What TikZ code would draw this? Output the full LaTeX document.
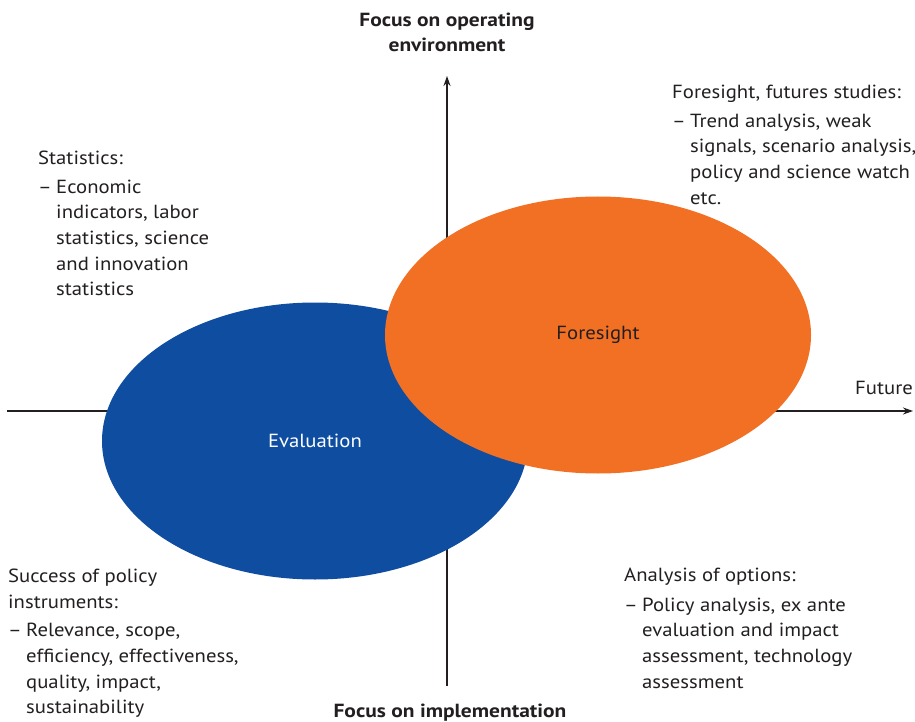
\documentclass[tikz,border=0pt]{standalone}
\usepackage{fontspec}
\setmainfont{PT Sans}[FakeStretch=1.09]
\newfontfamily\axisfont{PT Sans}[FakeStretch=1.13]
\usetikzlibrary{shapes.geometric,arrows.meta}
\definecolor{evalblue}{RGB}{14,77,160}
\definecolor{foreorange}{RGB}{242,112,35}
\definecolor{ink}{RGB}{35,31,32}
\newcommand{\bul}{\makebox[18pt][l]{–}}
\newcommand{\ind}{\hspace*{18pt}}
\begin{document}
\begin{tikzpicture}[x=1pt,y=-1pt,
  axis/.style={draw=ink,line width=1.2pt,-{Stealth[length=10pt,width=7pt]}},
  blob/.style={ellipse,inner sep=0pt,minimum width=426pt,minimum height=277pt,font=\fontsize{19}{22}\selectfont},
  note/.style={anchor=north west,inner sep=0pt,align=left,text=ink,font=\fontsize{19}{25.6}\selectfont},
  axislabel/.style={inner sep=0pt,align=center,text=ink,font=\axisfont\bfseries\fontsize{19}{25}\selectfont}]
\useasboundingbox (0,0) rectangle (915,722);
% axes
\coordinate (hleft) at (7,411);
\coordinate (hright) at (913,411);
\coordinate (vbottom) at (447,686);
\coordinate (vtop) at (447,76);
\draw[axis] (hleft) -- (hright);
\draw[axis] (vbottom) -- (vtop);
% the two overlapping fields
\node[blob,fill=evalblue,text=white] (evaluation) at (315,441) {Evaluation};
\node[blob,fill=foreorange,text=ink] (foresight) at (598,335) {Foresight};
% axis labels
\node[axislabel,anchor=north] (envlabel) at (447,13) {Focus on operating\\environment};
\node[axislabel,anchor=north] (implabel) at (450,704) {Focus on implementation};
\node[note,anchor=south east] (futurelabel) at (913,395) {Future};
% quadrant notes
\node[note] (statistics) at (38,151) {Statistics:\\[3pt]
  \bul Economic\\ \ind indicators, labor\\ \ind statistics, science\\ \ind and innovation\\ \ind statistics};
\node[note] (futures) at (672,85) {Foresight, futures studies:\\[3pt]
  \bul Trend analysis, weak\\ \ind signals, scenario analysis,\\ \ind policy and science watch\\ \ind etc.};
\node[note] (success) at (8,569) {Success of policy\\ instruments:\\[3pt]
  \bul Relevance, scope,\\ \ind efficiency, effectiveness,\\ \ind quality, impact,\\ \ind sustainability};
\node[note] (options) at (624,568) {Analysis of options:\\[4pt]
  \bul Policy analysis, ex ante\\ \ind evaluation and impact\\ \ind assessment, technology\\ \ind assessment};
\end{tikzpicture}
\end{document}
